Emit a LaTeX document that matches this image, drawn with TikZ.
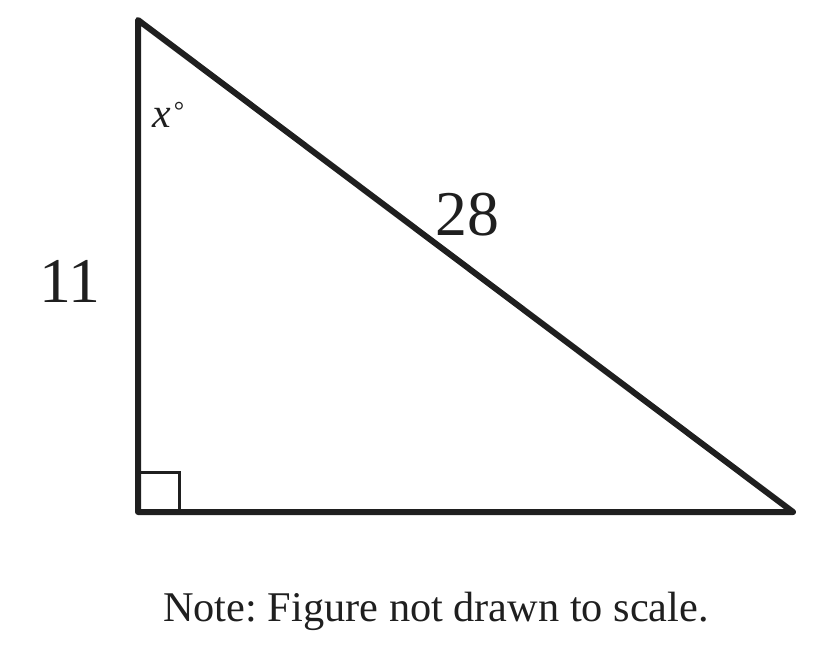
\documentclass[tikz,border=0pt]{standalone}
\usepackage{fontspec}
\setmainfont{Liberation Serif}
\usetikzlibrary{positioning,calc}
\frenchspacing
\tikzstyle{side}=[line width=6bp,line join=round,draw=black!88]
\tikzstyle{rightangle}=[line width=3bp,draw=black!88]
\tikzstyle{num}=[inner sep=0pt,anchor=base,font=\fontsize{64}{64}\selectfont,text=black!88]

\begin{document}
\begin{tikzpicture}[x=1bp,y={(0bp,-1bp)}]
\useasboundingbox (0,0) rectangle (822,646);
\coordinate (top) at (138,20);
\coordinate (corner) at (138,512);
\coordinate (right) at (793,512);
\draw [rightangle] ($(corner)+(0,-40)$) -| ($(corner)+(41,0)$);
\draw [side] (top) -- (corner) -- (right) -- cycle;
\node [num] (leg) at (70,302) {11};
\node [num] (hyp) at (467,236) {28};
\node [inner sep=0pt,anchor=base west,font=\fontsize{42}{42}\selectfont,text=black!88] (angle) at (152,128) {\textit{x}\hspace{3bp}\raisebox{8bp}{\fontsize{26}{26}\selectfont°}};
\node [inner sep=0pt,anchor=base,font=\fontsize{42.5}{42.5}\selectfont,text=black!88] (note) at (436,621) {Note: Figure not drawn to scale.};
\end{tikzpicture}
\end{document}
